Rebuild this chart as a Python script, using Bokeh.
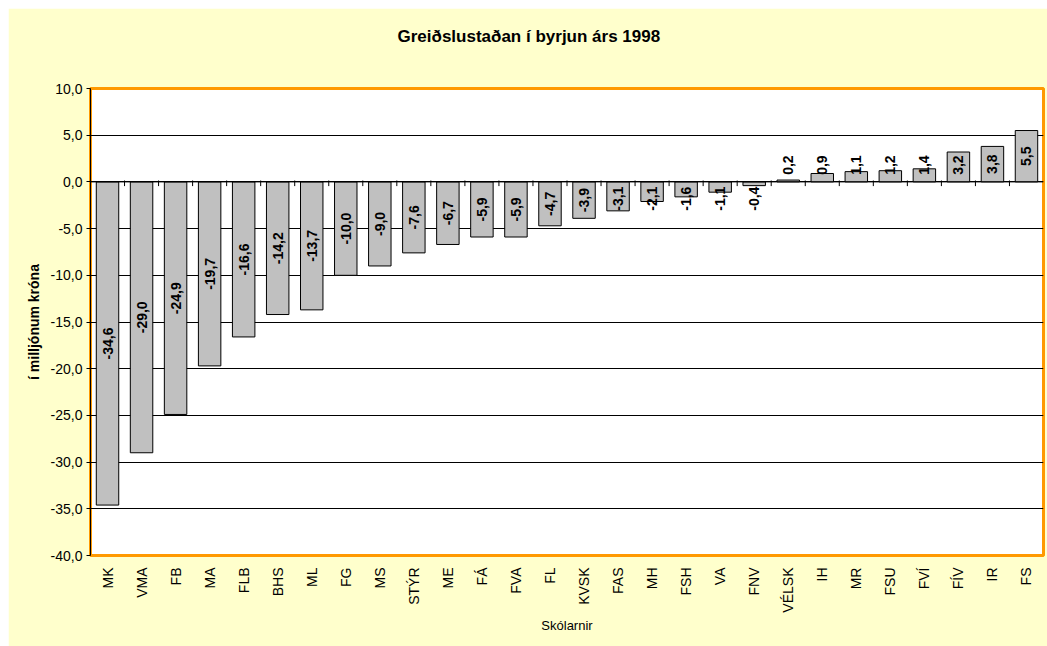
import math
from bokeh.plotting import figure
from bokeh.layouts import column, row
from bokeh.models import (ColumnDataSource, FactorRange, Range1d, FixedTicker,
                          CustomJSTickFormatter, Span, Title, Spacer)
from bokeh.core.properties import value
from bokeh.embed import file_html
from bokeh.resources import INLINE

schools = ["MK", "VMA", "FB", "MA", "FLB", "BHS", "ML", "FG", "MS", "STÝR", "ME", "FÁ",
           "FVA", "FL", "KVSK", "FAS", "MH", "FSH", "VA", "FNV", "VÉLSK", "IH", "MR",
           "FSU", "FVÍ", "FÍV", "IR", "FS"]
balance = [-34.6, -29.0, -24.9, -19.7, -16.6, -14.2, -13.7, -10.0, -9.0, -7.6, -6.7, -5.9,
           -5.9, -4.7, -3.9, -3.1, -2.1, -1.6, -1.1, -0.4, 0.2, 0.9, 1.1,
           1.2, 1.4, 3.2, 3.8, 5.5]
y_ticks = [-40, -35, -30, -25, -20, -15, -10, -5, 0, 5, 10]

title_text = "Greiðslustaðan í byrjun árs 1998"
y_title = "í milljónum króna"
x_title = "Skólarnir"

FONT = "Liberation Sans"

labels = [f"{v:.1f}".replace(".", ",") for v in balance]
# label centred in bar, but kept clear of the zero line for short bars
min_off = 1.8
label_y = [math.copysign(max(abs(v) / 2.0, min_off), v) for v in balance]

src = ColumnDataSource(dict(x=schools, top=balance, lab=labels, ly=label_y))

p = figure(x_range=FactorRange(*schools, range_padding=0),
           y_range=Range1d(y_ticks[0], y_ticks[-1]),
           width=1039, height=638, output_backend="svg", toolbar_location=None,
           min_border_left=82, min_border_right=4, min_border_top=80, min_border_bottom=91)

p.border_fill_color = "#FFFFCC"
p.background_fill_color = "white"
p.outline_line_color = "#FF9900"
p.outline_line_width = 3

# spacer title (closest to the frame) then the real title above it
p.add_layout(Title(text=" ", text_font=FONT, text_font_size="14px", standoff=20), "above")
p.add_layout(Title(text=title_text, align="left", text_font=FONT, text_font_size="17px",
                   text_font_style="bold", text_color="black", offset=307, standoff=10),
             "above")

p.vbar(x="x", top="top", bottom=0, width=0.66, source=src,
       fill_color="#C0C0C0", line_color="black", line_width=1)

p.add_layout(Span(location=0, dimension="width", line_color="black", line_width=1))

# category tick marks on the zero line (between categories)
bounds = list(range(1, len(schools)))
p.segment(x0=bounds, x1=bounds, y0=[0.15] * len(bounds), y1=[-0.45] * len(bounds),
          line_color="black", line_width=1)

p.text(x="x", y="ly", text="lab", source=src, angle=math.pi / 2,
       text_align="center", text_baseline="middle",
       text_font=value(FONT), text_font_size="14px", text_font_style="bold",
       text_color="black")

p.xgrid.grid_line_color = None
p.ygrid.grid_line_color = "black"
p.ygrid.grid_line_width = 1
p.ygrid.ticker = FixedTicker(ticks=y_ticks)

p.yaxis.ticker = FixedTicker(ticks=y_ticks)
p.yaxis.formatter = CustomJSTickFormatter(code="return tick.toFixed(1).replace('.', ',');")
p.yaxis.axis_line_color = "black"
p.yaxis.major_tick_out = 4
p.yaxis.major_tick_in = 0
p.yaxis.minor_tick_line_color = None
p.yaxis.major_label_standoff = 4
p.yaxis.major_label_text_font = FONT
p.yaxis.major_label_text_font_size = "14px"
p.yaxis.major_label_text_color = "black"
p.yaxis.axis_label = y_title
p.yaxis.axis_label_text_font = FONT
p.yaxis.axis_label_text_font_size = "14px"
p.yaxis.axis_label_text_font_style = "bold"
p.yaxis.axis_label_text_color = "black"
p.yaxis.axis_label_standoff = 6

p.xaxis.axis_line_color = None
p.xaxis.major_tick_line_color = None
p.xaxis.major_tick_out = 0
p.xaxis.major_tick_in = 0
p.xaxis.minor_tick_line_color = None
p.xaxis.major_label_orientation = math.pi / 2
p.xaxis.major_label_standoff = 12
p.xaxis.major_label_text_font = FONT
p.xaxis.major_label_text_font_size = "14px"
p.xaxis.major_label_text_color = "black"
p.xaxis.axis_label = x_title
p.xaxis.axis_label_text_font = FONT
p.xaxis.axis_label_text_font_size = "13px"
p.xaxis.axis_label_text_font_style = "normal"
p.xaxis.axis_label_text_color = "black"
p.xaxis.axis_label_standoff = 2

layout = column(Spacer(height=8, width=1047), row(Spacer(width=8, height=638), p))
open("out.html", "w").write(file_html(layout, INLINE))
